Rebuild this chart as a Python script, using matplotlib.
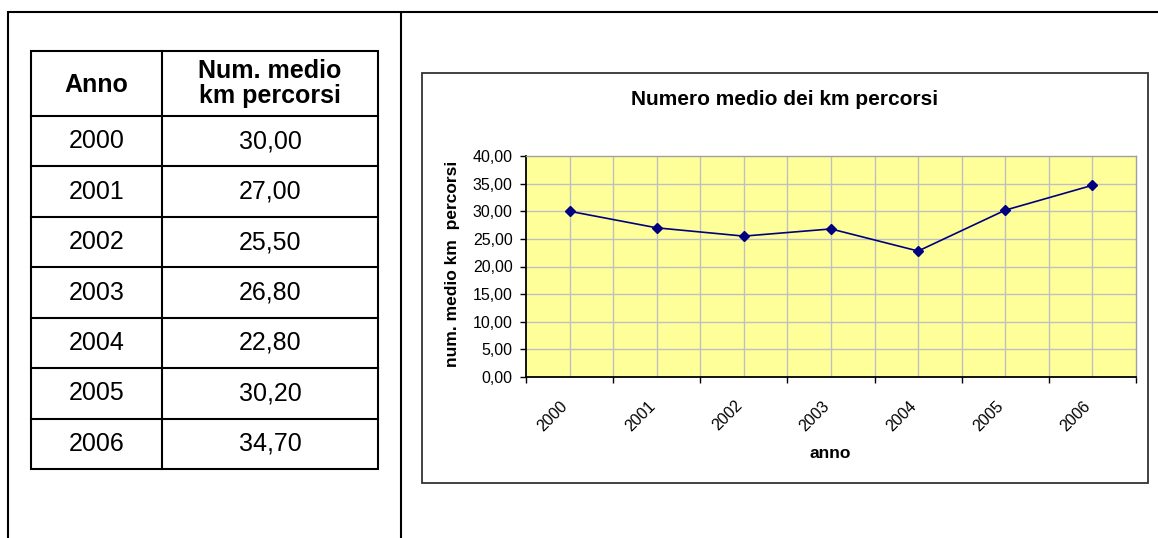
import matplotlib
matplotlib.use("Agg")
import matplotlib.pyplot as plt
from matplotlib.lines import Line2D
from matplotlib.patches import Rectangle
import matplotlib.transforms as mtransforms

# ---- data ----
years = ["2000", "2001", "2002", "2003", "2004", "2005", "2006"]
km_values = [30.00, 27.00, 25.50, 26.80, 22.80, 30.20, 34.70]
value_labels = ["30,00", "27,00", "25,50", "26,80", "22,80", "30,20", "34,70"]
y_ticks = [0, 5, 10, 15, 20, 25, 30, 35, 40]
y_tick_labels = ["0,00", "5,00", "10,00", "15,00", "20,00", "25,00", "30,00", "35,00", "40,00"]
header_labels = ["Anno", "Num. medio\nkm percorsi"]
chart_title = "Numero medio dei km percorsi"
x_title = "anno"
y_title = "num. medio km  percorsi"

W, H = 1158, 538
plt.rcParams['font.family'] = ['Liberation Sans', 'DejaVu Sans']
fig = plt.figure(figsize=(W / 100, H / 100), dpi=100)
fig.patch.set_facecolor("white")


def fx(x):
    return x / W


def fy(y):
    return 1 - y / H


def fig_line(x0, y0, x1, y1, lw=1.5, color="black"):
    fig.add_artist(Line2D([fx(x0), fx(x1)], [fy(y0), fy(y1)],
                          transform=fig.transFigure, color=color, lw=lw,
                          solid_capstyle="butt"))


# ---- outer page frame ----
fig_line(8, 12, W, 12)
fig_line(8, 11.3, 8, H)
fig_line(401, 12, 401, H)

# ---- table ----
tx0, tx1, ty0, ty1 = 31, 378, 51, 469
tax = fig.add_axes([fx(tx0), fy(ty1), (tx1 - tx0) / W, (ty1 - ty0) / H])
tax.set_xlim(tx0, tx1)
tax.set_ylim(ty1, ty0)
tax.axis("off")
col_split = 162
header_bottom = 116
n = len(years)
row_h = (ty1 - header_bottom) / n
lw_t = 1.5
# outer border
tax.add_patch(Rectangle((tx0, ty0), tx1 - tx0, ty1 - ty0, fill=False,
                        lw=lw_t, ec="black", clip_on=False))
tax.plot([col_split, col_split], [ty0, ty1], color="black", lw=lw_t, clip_on=False)
tax.plot([tx0, tx1], [header_bottom, header_bottom], color="black", lw=lw_t, clip_on=False)
c1 = (tx0 + col_split) / 2
c2 = (col_split + tx1) / 2
hc = (ty0 + header_bottom) / 2
tax.text(c1, hc + 1, header_labels[0], ha="center", va="center",
         fontsize=18, fontweight="bold")
tax.text(c2, hc, header_labels[1], ha="center", va="center",
         fontsize=18, fontweight="bold", linespacing=1.05)
for i, (yr, lab) in enumerate(zip(years, value_labels)):
    top = header_bottom + i * row_h
    if i > 0:
        tax.plot([tx0, tx1], [top, top], color="black", lw=lw_t, clip_on=False)
    cy = top + row_h / 2
    tax.text(c1, cy, yr, ha="center", va="center", fontsize=18)
    tax.text(c2, cy, lab, ha="center", va="center", fontsize=18)

# ---- chart box ----
fig.add_artist(Rectangle((fx(422), fy(483)), (1148 - 422) / W, (483 - 73) / H,
                         transform=fig.transFigure, fill=True, fc="white",
                         ec="#333333", lw=1.3, zorder=0))
fig.text(fx(785), fy(100), chart_title, ha="center", va="center",
         fontsize=15, fontweight="bold")

px0, px1, py0, py1 = 526, 1136, 156, 377
ax = fig.add_axes([fx(px0), fy(py1), (px1 - px0) / W, (py1 - py0) / H])
ax.set_facecolor("#FFFF99")
xs = [i + 0.5 for i in range(n)]
ax.set_xlim(0, n)
ax.set_ylim(0, 40)
ax.set_axisbelow(True)
for i in range(n):
    ax.axvline(i + 0.5, color="#C0C0C0", lw=1, zorder=0.5)
    if i > 0:
        ax.axvline(i, color="#C0C0C0", lw=1, zorder=0.5)
for v in y_ticks[1:-1]:
    ax.axhline(v, color="#C0C0C0", lw=1, zorder=0.5)

ax.plot(xs, km_values, color="#000080", lw=1.2, marker="D", markersize=5.5,
        markerfacecolor="#000080", markeredgecolor="#000080", zorder=3)

for s in ["top", "right"]:
    ax.spines[s].set_color("#A0A0A0")
    ax.spines[s].set_linewidth(1)
for s in ["left", "bottom"]:
    ax.spines[s].set_color("black")
    ax.spines[s].set_linewidth(1.3)

ax.set_yticks(y_ticks)
ax.set_yticklabels(y_tick_labels, fontsize=11.5)
ax.tick_params(axis="y", direction="out", length=4.5, width=1, pad=5)

ax.set_xticks(list(range(n + 1)), minor=True)
ax.tick_params(axis="x", which="minor", direction="out", length=4.5, width=1)
ax.set_xticks(xs)
ax.set_xticklabels(years, fontsize=11.5, rotation=45, ha="right",
                   va="center", rotation_mode="anchor")
ax.tick_params(axis="x", which="major", length=0, pad=19)
offset = mtransforms.ScaledTranslation(-4 / 100, 0, fig.dpi_scale_trans)
for lbl in ax.get_xticklabels():
    lbl.set_transform(lbl.get_transform() + offset)

fig.text(fx(830), fy(454), x_title, ha="center", va="center",
         fontsize=12.5, fontweight="bold")
fig.text(fx(452), fy(264), y_title, ha="center", va="center",
         fontsize=12.5, fontweight="bold", rotation=90)

fig.savefig("out.png", dpi=100, facecolor="white")
